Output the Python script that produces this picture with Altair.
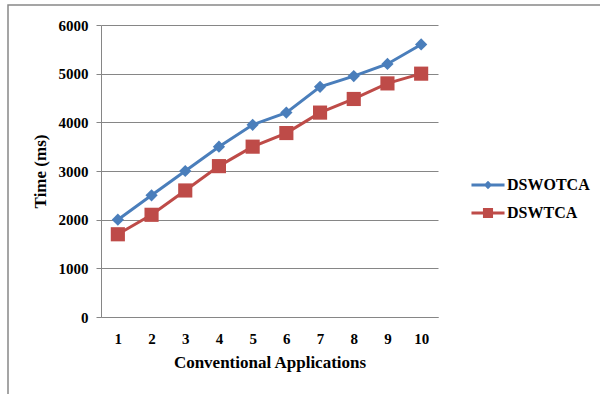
import altair as alt
import pandas as pd

apps = [1, 2, 3, 4, 5, 6, 7, 8, 9, 10]
dswotca = [2000, 2500, 3000, 3500, 3950, 4200, 4730, 4950, 5200, 5600]
dswtca = [1700, 2100, 2600, 3100, 3500, 3780, 4200, 4480, 4800, 5000]
series = ["DSWOTCA", "DSWTCA"]
colors = ["#4a7ebb", "#be4b48"]
y_ticks = [0, 1000, 2000, 3000, 4000, 5000, 6000]

rows = []
for a, v in zip(apps, dswotca):
    rows.append({"app": a, "time": v, "series": series[0]})
for a, v in zip(apps, dswtca):
    rows.append({"app": a, "time": v, "series": series[1]})
df = pd.DataFrame(rows)

FONT = "Liberation Serif"

x = alt.X("app:O", title="Conventional Applications",
          scale=alt.Scale(paddingInner=0, paddingOuter=0.5),
          axis=alt.Axis(labelAngle=0, grid=False, ticks=False, labelPadding=14,
                        titlePadding=8, domainColor="#868686"))
y = alt.Y("time:Q", title="Time (ms)",
          scale=alt.Scale(domain=[0, 6000], nice=False),
          axis=alt.Axis(values=y_ticks, format="d", tickSize=5, labelPadding=8,
                        tickColor="#868686", domainColor="#868686",
                        gridColor="#868686", titlePadding=9))
cscale = alt.Scale(domain=series, range=colors)

layers = []
for s, c, shp, sz in zip(series, colors, ["diamond", "square"], [150, 200]):
    base = alt.Chart(df).transform_filter(alt.datum.series == s)
    layers.append(base.mark_line(strokeWidth=3, color=c).encode(x=x, y=y))
    layers.append(base.mark_point(filled=True, opacity=1, shape=shp, size=sz, color=c).encode(x=x, y=y))

legend_shapes = [
    "M-1.18,-0.11H1.18V0.11H-1.18Z M0,-0.3L0.3,0L0,0.3L-0.3,0Z",
    "M-1.18,-0.11H1.18V0.11H-1.18Z M-0.36,-0.36H0.36V0.36H-0.36Z",
]
leg_props = dict(title=None, orient="none", legendX=372, legendY=145,
                 labelFont=FONT, labelFontSize=16, labelFontWeight="bold",
                 labelColor="#000", rowPadding=5, symbolOpacity=1,
                 symbolSize=784, labelOffset=4)
leg = alt.Chart(df).mark_point(filled=True, size=784, opacity=1).encode(
    x=x, y=y,
    color=alt.Color("series:N", scale=cscale, legend=alt.Legend(**leg_props)),
    shape=alt.Shape("series:N", scale=alt.Scale(domain=series, range=legend_shapes),
                    legend=alt.Legend(**leg_props)),
).transform_filter("false")

border = alt.Chart(pd.DataFrame({"a": [0]})).mark_rect(
    fill=None, stroke="#888888", strokeWidth=1.5, clip=False).encode(
    x=alt.value(-93), x2=alt.value(520), y=alt.value(-20), y2=alt.value(400))

chart = alt.layer(border, *layers, leg).properties(
    width=337, height=292,
    padding={"left": 101, "top": 25, "right": 162, "bottom": 77},
    autosize=alt.AutoSizeParams(type="none"),
    background="white",
).configure_view(stroke=None).configure_axis(
    labelFont=FONT, labelFontSize=15, labelFontWeight="bold", labelColor="#000",
    titleFont=FONT, titleFontSize=17, titleFontWeight="bold", titleColor="#000",
).configure_axisY(grid=True)

chart.save("out.html", embed_options={"renderer": "svg", "actions": False})
